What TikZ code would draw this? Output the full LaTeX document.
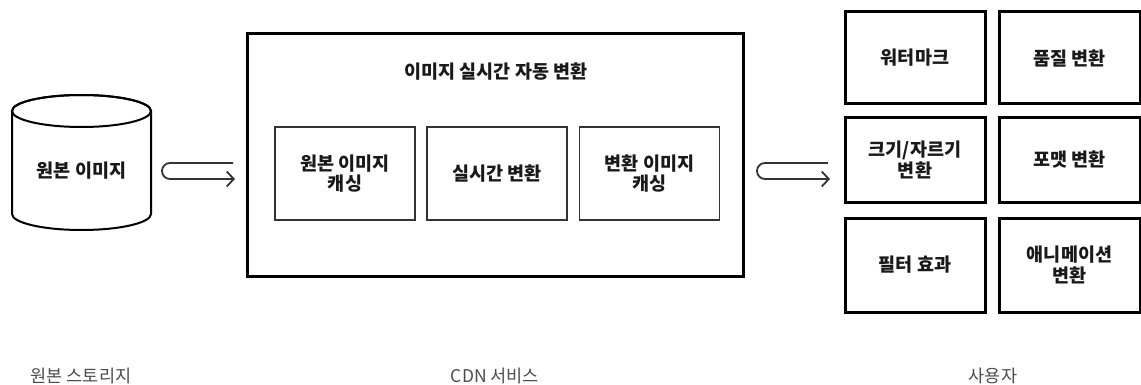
\documentclass[tikz,border=0pt]{standalone}
\usepackage{fontspec}
\setmainfont{Noto Sans CJK KR}
\usetikzlibrary{arrows.meta}
\begin{document}
\begin{tikzpicture}[x=1pt,y=-1pt,
  boldtxt/.style={font=\fontsize{18.5}{20.5}\selectfont\bfseries, align=center, text=black!90},
  inner/.style={draw=black!80, line width=1.6pt, minimum width=140pt, minimum height=93pt, boldtxt, inner sep=0pt},
  gridbox/.style={draw=black, line width=3pt, boldtxt, inner sep=0pt},
  caption/.style={font=\fontsize{17.5}{20}\selectfont, text=black!70},
  hookarrow/.style={draw=black!80, line width=1.8pt, -{Straight Barb[length=7pt,width=15pt,line width=1.8pt]}}
]
\useasboundingbox (0,0) rectangle (1141,385);
% cylinder
\draw[line width=2pt, fill=white] (12,111) -- (12,214) arc[start angle=180,end angle=360,x radius=69.5,y radius=-16] -- (151,111) arc[start angle=0,end angle=180,x radius=69.5,y radius=-16] -- cycle;
\draw[line width=2pt] (81.5,111) ellipse[x radius=69.5,y radius=16];
\node[boldtxt] (src) at (81.5,171) {원본 이미지};
% CDN box
\node[draw=black, line width=3pt, minimum width=496pt, minimum height=242pt, inner sep=0pt] (cdn) at (495,155) {};
\node[boldtxt] (title) at (496,72) {이미지 실시간 자동 변환};
\node[inner] (b1) at (345,173.5) {원본 이미지\\캐싱};
\node[inner] (b2) at (497,173.5) {실시간 변환};
\node[inner] (b3) at (649.5,173.5) {변환 이미지\\캐싱};
% arrows
\coordinate (a1s) at (233,163);
\coordinate (a1e) at (235,179);
\draw[hookarrow] (a1s) -- (170,163) arc[start angle=270,end angle=90,radius=8] -- (a1e);
\coordinate (a2s) at (828,163);
\coordinate (a2e) at (830,179);
\draw[hookarrow] (a2s) -- (765,163) arc[start angle=270,end angle=90,radius=8] -- (a2e);
% grid
\node[gridbox, minimum width=140pt, minimum height=92pt] (g1) at (915,58) {워터마크};
\node[gridbox, minimum width=141pt, minimum height=92pt] (g2) at (1069.5,58) {품질 변환};
\node[gridbox, minimum width=140pt, minimum height=84pt] (g3) at (915,160) {크기/자르기\\변환};
\node[gridbox, minimum width=141pt, minimum height=84pt] (g4) at (1069.5,160) {포맷 변환};
\node[gridbox, minimum width=140pt, minimum height=94pt] (g5) at (915,265) {필터 효과};
\node[gridbox, minimum width=141pt, minimum height=94pt] (g6) at (1069.5,265) {애니메이션\\변환};
% captions
\node[caption] (c1) at (81,376) {원본 스토리지};
\node[caption] (c2) at (495,376) {CDN 서비스};
\node[caption] (c3) at (993,376) {사용자};
\end{tikzpicture}
\end{document}
